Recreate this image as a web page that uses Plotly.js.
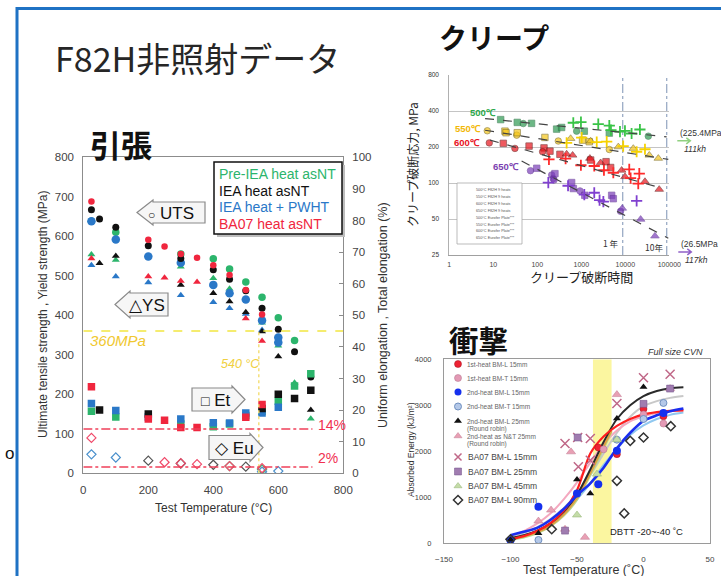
<!DOCTYPE html>
<html>
<head>
<meta charset="utf-8">
<title>F82H非照射データ</title>
<script src="https://cdn.plot.ly/plotly-3.0.1.min.js"></script>
<style>
  html, body { margin: 0; padding: 0; background: #ffffff; }
  #chart { width: 721px; height: 576px; }
</style>
</head>
<body>
<div id="chart"></div>
<script>
// ================= 引張 (tensile): temperature °C, strength MPa, elongation % =================
const tensileTempTicks = [0, 200, 400, 600, 800];

// Pre-IEA heat asNT
const preUtsT = [25, 100, 300, 400, 450, 500, 550, 600, 650];
const preUts  = [638, 610, 555, 543, 517, 484, 446, 394, 336];
const preYsT  = [25, 100, 300, 400, 450, 550, 600, 650, 700];
const preYs   = [554, 540, 523, 494, 467, 381, 323, 229, 138];
const preEtT  = [25, 100, 300, 400, 450, 500, 550, 600, 650, 700];
const preEt   = [19.6, 17.8, 15.6, 14.7, 15.6, 18.3, 19.6, 22.8, 27.6, 31.5];
const preEuT  = [450, 550];
const preEu   = [2.3, 1.2];

// IEA heat asNT
const ieaUtsT = [25, 50, 100, 200, 300, 400, 450, 500, 550, 600, 650, 700];
const ieaUts  = [667, 644, 623, 576, 544, 515, 491, 462, 418, 365, 308, 244];
const ieaYsT  = [50, 100, 300, 400, 450, 500, 550, 600, 700];
const ieaYs   = [532, 550, 477, 456, 435, 408, 359, 296, 160];
const ieaEtT  = [50, 200, 550, 600, 650, 700];
const ieaEt   = [20.0, 18.8, 20.5, 25.0, 23.7, 26.3];
const ieaEuT  = [200, 300, 400, 500];
const ieaEu   = [4.0, 3.1, 2.7, 2.1];

// IEA heat + PWHT
const pwhtUtsT = [25, 100, 200, 300, 400, 450, 500, 550, 600, 600];
const pwhtUts  = [638, 592, 549, 533, 477, 456, 440, 387, 344, 331];
const pwhtYsT  = [25, 100, 200, 300, 400, 450, 500, 550];
const pwhtYs   = [527, 498, 483, 451, 433, 418, 403, 363];
const pwhtEtT  = [25, 100, 200, 300, 400, 450, 500, 550, 600];
const pwhtEt   = [22.1, 19.9, 17.8, 17.2, 16.0, 15.9, 19.1, 19.1, 20.9];
const pwhtEuT  = [25, 100, 550, 600];
const pwhtEu   = [6.0, 5.0, 0.5, 0.7];

// BA07 heat asNT
const baUtsT = [25, 200, 250, 300, 350, 400, 450, 500, 550];
const baUts  = [688, 591, 574, 555, 546, 527, 502, 464, 402];
const baYsT  = [25, 200, 250, 300, 350, 500, 550];
const baYs   = [544, 498, 495, 487, 484, 392, 335];
const baEtT  = [25, 200, 250, 300, 350, 500, 550];
const baEt   = [27.4, 17.2, 16.8, 14.5, 14.5, 17.7, 21.8];
const baEuT  = [25, 250, 300, 350, 450, 550];
const baEu   = [11.2, 3.5, 3.2, 2.9, 2.3, 1.6];

// reference levels
const ysLimitMPa = 360;
const tempLimitC = 540;
const etLimitPct = 14;
const euLimitPct = 2;

// ================= クリープ (creep): rupture time h, stress MPa =================
// heat code: 0, 1, 2 = three F82H heat groups
const f500h = [14.7, 35, 48, 74, 275, 357, 783, 1170, 4330, 33300];
const f500s = [340, 322, 315, 316, 283, 292, 272, 272, 262, 247];
const f500k = [1, 1, 0, 1, 1, 1, 0, 1, 1, 0];
const e500h = [658, 982, 2430, 4330, 4720, 7570, 9820, 13900, 21500];
const e500s = [320, 324, 311, 303, 277, 270, 274, 260, 281];

const f550h = [7.3, 18.4, 19.5, 34, 35, 149, 300, 572, 1070, 1520, 1630, 4330, 6940, 15200, 35100, 56300];
const f550s = [274, 272, 264, 252, 264, 241, 225, 236, 229, 222, 225, 191, 201, 195, 171, 161];
const f550k = [0, 1, 1, 0, 1, 1, 0, 2, 1, 1, 2, 0, 2, 2, 2, 2];
const e550h = [464, 1020, 2240, 3780, 8960, 18100, 28000];
const e550s = [217, 240, 220, 222, 204, 183, 192];

const f600h = [8.1, 16.9, 31, 65, 142, 132, 194, 327, 464, 635, 1570, 1630, 2750, 3650, 4640, 8260, 9840, 28000, 59000];
const f600s = [217, 215, 195, 204, 197, 183, 185, 174, 175, 171, 161, 156, 148, 151, 135, 128, 113, 103, 88.5];
const f600k = [0, 1, 0, 1, 1, 0, 1, 1, 2, 2, 2, 1, 2, 1, 1, 2, 2, 2, 2];
const e600h = [184, 440, 980, 1970, 3270, 5340, 12300, 13200, 20800, 19700];
const e600s = [158, 160, 141, 139, 128, 122, 130, 110, 120, 99];

const f650h = [70, 97, 212, 231, 252, 240, 603, 660, 933, 1200, 4900, 5340, 7800, 8530, 22300, 47200];
const f650s = [127, 133, 117, 109, 120, 106, 101, 90, 86, 79, 79, 74, 58, 61.5, 49.7, 36];
const f650k = [0, 1, 0, 0, 1, 0, 1, 1, 0, 1, 1, 1, 0, 2, 2, 2];
const e650h = [178, 500, 1170, 1970, 2600, 3170, 18100];
const e650s = [101, 95, 80, 83, 72, 70, 71];

// trend lines (end points)
const trend500h = [6.5, 87000],  trend500s = [347, 244];
const trend550h = [6.5, 94900],  trend550s = [277, 158];
const trend600h = [8.4, 73000],  trend600s = [229, 90];
const trend650h = [44, 94900],   trend650s = [153, 34.5];

// unbroken (run-out) specimens
const runoutH = [111000, 117000];
const runoutS = [225.4, 26.5];

// 1 year / 10 years
const yearH = [8760, 87600];
const yearLabels = ['1 年', '10年'];

const creepTimeTicks = [1, 10, 100, 1000, 10000, 100000];
const creepStressTicks = [25, 50, 100, 200, 400, 800];

// ================= 衝撃 (Charpy impact): temperature °C, absorbed energy kJ/m² =================
const h1LT = [-34, -20, 0, 15];
const h1LE = [2080, 1935, 2920, 2760];
const h1TT = [-30, 0, 15];
const h1TE = [2040, 2800, 2600];
const h2LT = [-100, -79, -50, -34, -20, 15];
const h2LE = [60, 790, 1080, 1280, 2007, 2833];
const h2TT = [-79, -20, 0, 15];
const h2TE = [65, 2250, 2700, 3050];
const rrLT = [-100, -79, -50, -40, -20, 0];
const rrLE = [70, 210, 1385, 1080, 2710, 3398];
const rrNT = [-79, -69.5, -59, -54.5, -44, -20, 20];
const rrNE = [478, 717, 300, 1985, 124, 3232, 3362];
const ba15T = [-59, -49.5, -40, -49, -40, -20, 0, 20];
const ba15E = [2167, 2297, 2275, 1660, 1800, 3036, 3600, 3674];
const ba25T = [-49.5, -59, 0, 20];
const ba25E = [2297, 270, 3030, 3362];
const ba45T = [-50, -35, -20];
const ba45E = [610, 1500, 2250];
const ba90T = [-100, -69, -20, -14.5, -10, 0, 20.5];
const ba90E = [80, 300, 1355, 645, 2224, 2297, 2543];

// fitted transition curves
const fitT      = [-100, -90, -80, -70, -60, -50, -40, -30, -20, -10, 0, 10, 20, 30];
const fitBlack  = [110, 170, 270, 430, 680, 1050, 1600, 2200, 2700, 3000, 3200, 3310, 3370, 3390];
const fitGray   = [150, 220, 340, 520, 760, 1080, 1480, 1950, 2400, 2750, 2980, 3090, 3160, 3200];
const fitPink   = [160, 260, 420, 640, 950, 1320, 1750, 2150, 2450, 2650, 2760, 2830, 2870, 2890];
const fitRed    = [80, 150, 260, 430, 700, 1150, 1950, 2320, 2550, 2700, 2800, 2850, 2880, 2890];
const fitBlue   = [170, 245, 330, 500, 740, 1040, 1300, 1640, 2060, 2400, 2660, 2780, 2870, 2930];
const fitLBlue  = [100, 170, 260, 410, 620, 950, 1300, 1700, 2050, 2350, 2560, 2700, 2790, 2840];
const steepT    = [-100, -90, -80, -70, -60, -50, -40, -30, -24];
const fitOrange = [90, 140, 230, 380, 620, 980, 1520, 2100, 2450];
const fitGreen  = [70, 120, 210, 360, 590, 940, 1470, 2050, 2420];

const dbttBand = [-38, -24];
const impTempTicks = [-150, -100, -50, 0, 50];

// ================= page geometry =================
const W = 721, H = 576;
const SANS = 'Liberation Sans, Arial, sans-serif';
const JP = 'Noto Sans CJK JP, Noto Sans, sans-serif';

const tensBox  = {l: 83.3, r: 343.3, t: 157.3, b: 473.3};
const creepBox = {l: 449.3, r: 669.3, t: 75, b: 255};
const impBox   = {l: 444, r: 710, t: 359.3, b: 543};
const xDom = b => [b.l / W, b.r / W];
const yDom = b => [1 - b.b / H, 1 - b.t / H];

// creep axes in page pixels (log-log)
const creepPx = h => creepBox.l + (creepBox.r - creepBox.l) * Math.log10(h) / 5;
const creepPy = s => creepBox.t + (creepBox.b - creepBox.t) * Math.log(800 / s) / Math.log(32);

const traces = [];
const shapes = [];
const annotations = [];

function markers(x, y, xa, ya, marker, extra) {
  return Object.assign({type: 'scatter', mode: 'markers', x, y, xaxis: xa, yaxis: ya,
    showlegend: false, hoverinfo: 'skip', marker}, extra || {});
}
function label(x, y, text, size, color, opts) {
  annotations.push(Object.assign({
    xref: 'x4', yref: 'y5', x, y, text, showarrow: false,
    xanchor: 'left', yanchor: 'middle',
    font: {family: SANS, size, color}
  }, opts || {}));
}

// ---------- tensile marks ----------
const tensileSets = [
  {uT: preUtsT, u: preUts, yT: preYsT, y: preYs, eT: preEtT, e: preEt, dT: preEuT, d: preEu, color: '#2cb56c', eu: '#3cbf78', cs: 7.5},
  {uT: pwhtUtsT, u: pwhtUts, yT: pwhtYsT, y: pwhtYs, eT: pwhtEtT, e: pwhtEt, dT: pwhtEuT, d: pwhtEu, color: '#2a78c8', eu: '#4a90cc', cs: 8.5},
  {uT: ieaUtsT, u: ieaUts, yT: ieaYsT, y: ieaYs, eT: ieaEtT, e: ieaEt, dT: ieaEuT, d: ieaEu, color: '#111111', eu: '#555555', cs: 7},
  {uT: baUtsT, u: baUts, yT: baYsT, y: baYs, eT: baEtT, e: baEt, dT: baEuT, d: baEu, color: '#f0263e', eu: '#f04a6a', cs: 6.5}
];
tensileSets.forEach(s => {
  traces.push(markers(s.uT, s.u, 'x', 'y', {symbol: 'circle', size: s.cs, color: s.color}));
  traces.push(markers(s.yT, s.y, 'x', 'y', {symbol: 'triangle-up', size: 7, color: s.color}));
  traces.push(markers(s.eT, s.e, 'x', 'y2', {symbol: 'square', size: 7.5, color: s.color}));
  traces.push(markers(s.dT, s.d, 'x', 'y2', {symbol: 'diamond-open', size: 7, color: s.eu, line: {width: 1.2}}));
});

// reference lines
shapes.push({type: 'line', xref: 'x', yref: 'y', x0: 0, x1: 800, y0: ysLimitMPa, y1: ysLimitMPa,
  line: {color: '#f2e640', width: 1.5, dash: 'dash'}});
shapes.push({type: 'line', xref: 'x', yref: 'y', x0: tempLimitC, x1: tempLimitC, y0: 0, y1: ysLimitMPa,
  line: {color: '#f5e07a', width: 1.5, dash: 'dot'}});
[etLimitPct, euLimitPct].forEach(v => shapes.push({type: 'line', xref: 'x', yref: 'y2', x0: 0, x1: 705, y0: v, y1: v,
  line: {color: '#f0405a', width: 1.5, dash: 'dashdot'}}));

label(88, 340, '<i>' + ysLimitMPa + 'MPa</i>', 15, '#f0c830');
label(219, 364, '<i>' + tempLimitC + ' °C</i>', 12.5, '#f0d040');
label(316, 425, etLimitPct + '%', 14, '#f03050');
label(316, 458, euLimitPct + '%', 14, '#f03050');

// block arrows with property names
function leftArrow(tip, mid, base, right, hb, hh) {
  return `M${tip},${mid} L${base},${mid - hh} L${base},${mid - hb} L${right},${mid - hb} L${right},${mid + hb} L${base},${mid + hb} L${base},${mid + hh} Z`;
}
function rightArrow(left, mid, base, tip, hb, hh) {
  return `M${tip},${mid} L${base},${mid - hh} L${base},${mid - hb} L${left},${mid - hb} L${left},${mid + hb} L${base},${mid + hb} L${base},${mid + hh} Z`;
}
const arrowStyle = {type: 'path', xref: 'x4', yref: 'y5', fillcolor: '#f6f6f6', line: {color: '#8a8a8a', width: 1.2}, layer: 'above'};
shapes.push(Object.assign({path: leftArrow(137, 212.5, 153, 205, 10.5, 12.5)}, arrowStyle));
shapes.push(Object.assign({path: leftArrow(115, 304.5, 130, 168, 11.5, 13.5)}, arrowStyle));
shapes.push(Object.assign({path: rightArrow(192, 399.5, 232, 245, 11.5, 13.5)}, arrowStyle));
shapes.push(Object.assign({path: rightArrow(209, 447.5, 250, 263, 12, 14)}, arrowStyle));
const arrowFont = 'Liberation Sans, DejaVu Sans, sans-serif';
label(171, 213, '<span style="font-size:12px">○</span> UTS', 17, '#111', {xanchor: 'center', font: {family: arrowFont, size: 17, color: '#111'}});
label(147, 305, '△YS', 17, '#111', {xanchor: 'center', font: {family: arrowFont, size: 17, color: '#111'}});
label(216, 400, '<span style="font-size:14px">□</span> Et', 17, '#111', {xanchor: 'center', font: {family: arrowFont, size: 17, color: '#111'}});
label(234, 448, '◇ Eu', 17, '#111', {xanchor: 'center', font: {family: arrowFont, size: 17, color: '#111'}});

// legend box
shapes.push({type: 'rect', xref: 'x4', yref: 'y5', x0: 217, x1: 345, y0: 165, y1: 237, fillcolor: '#bdbdbd', line: {width: 0}, layer: 'above'});
shapes.push({type: 'rect', xref: 'x4', yref: 'y5', x0: 214, x1: 342, y0: 162, y1: 234, fillcolor: '#ffffff', line: {color: '#111', width: 1.5}, layer: 'above'});
const tensileNames = ['Pre-IEA heat asNT', 'IEA heat asNT', 'IEA heat + PWHT', 'BA07 heat asNT'];
const tensileNameColors = ['#2cb56c', '#111111', '#2a78c8', '#f0263e'];
tensileNames.forEach((n, i) => label(217, 174 + i * 16.5, n, 14, tensileNameColors[i]));

// axis titles
label(43, 315, 'Ultimate tensile strength , Yield strength (MPa)', 12, '#333', {xanchor: 'center', textangle: -90});
label(383, 315, 'Uniform elongation , Total elongation (%)', 12.5, '#333', {xanchor: 'center', textangle: -90});
label(213, 508, 'Test Temperature (°C)', 12, '#333', {xanchor: 'center'});

// ---------- creep marks ----------
const creepSym = ['circle', 'square', 'triangle-up'];
const creepSets = [
  {h: f500h, s: f500s, k: f500k, eh: e500h, es: e500s, fill: '#2e9a52', edge: '#1d6a38', cross: '#39c447'},
  {h: f550h, s: f550s, k: f550k, eh: e550h, es: e550s, fill: '#f5c518', edge: '#6a5a10', cross: '#f7d200'},
  {h: f600h, s: f600s, k: f600k, eh: e600h, es: e600s, fill: '#e8141c', edge: '#5a0a0a', cross: '#ff2a2a'},
  {h: f650h, s: f650s, k: f650k, eh: e650h, es: e650s, fill: '#7a3db8', edge: '#5a2a90', cross: '#8040d0'}
];
yearH.forEach(h => traces.push({type: 'scatter', mode: 'lines', x: [h, h], y: [25, 800], xaxis: 'x2', yaxis: 'y3',
  showlegend: false, hoverinfo: 'skip', line: {color: '#7d93b5', width: 1, dash: 'dashdot'}}));
creepSets.forEach(c => {
  traces.push(markers(c.h, c.s, 'x2', 'y3', {symbol: c.k.map(k => creepSym[k]), size: c.k.map(k => k === 2 ? 7.5 : 6.5),
    color: c.fill, line: {color: c.edge, width: 0.7}}));
  traces.push(markers(c.eh, c.es, 'x2', 'y3', {symbol: 'cross-thin', size: 8, line: {color: c.cross, width: 1.8}}));
});
[[trend500h, trend500s], [trend550h, trend550s], [trend600h, trend600s], [trend650h, trend650s]].forEach(([h, s]) =>
  traces.push({type: 'scatter', mode: 'lines', x: h, y: s, xaxis: 'x2', yaxis: 'y3', showlegend: false, hoverinfo: 'skip',
    line: {color: '#444', width: 1.2, dash: 'dash'}}));
traces.push(markers(runoutH, runoutS, 'x2', 'y3', {symbol: 'triangle-up', size: 9,
  color: ['#3cb043', '#2e1a4a'], line: {color: ['#2a7a30', '#7a3db8'], width: 1}}, {cliponaxis: false}));
const runoutArrowColor = ['#90d080', '#9060c8'];
runoutH.forEach((h, i) => {
  const px = creepPx(h), py = creepPy(runoutS[i]);
  label(px + 7, py - 8, '(' + runoutS[i] + 'MPa', 8.5, '#333');
  label(px + 11, py + 8, '<i>' + (h / 1000) + 'kh</i>', 8.5, '#333');
  const a = px + 6, b = px + 19;
  shapes.push({type: 'path', xref: 'x4', yref: 'y5', layer: 'above',
    path: `M${a},${py} L${b},${py} M${b - 4},${py - 3} L${b},${py} L${b - 4},${py + 3}`,
    line: {color: runoutArrowColor[i], width: 1.5}});
});
yearH.forEach((h, i) => label(creepPx(h) - 1.5, creepBox.b - 12 + i * 4, yearLabels[i], 8.5, '#333', {xanchor: 'right', font: {family: JP, size: 8.5, color: '#333'}}));

const creepTempLabels = [['500℃', 468, 112, '#2aa84a'], ['550℃', 453, 128, '#f2b705'], ['600℃', 452, 142, '#e8101c'], ['650℃', 491, 166, '#7b3fb0']];
creepTempLabels.forEach(([t, x, y, c]) => label(x, y, '<b>' + t + '</b>', 9.5, c));

// creep legend
shapes.push({type: 'rect', xref: 'x4', yref: 'y5', x0: 457, x1: 522, y0: 183, y1: 244, fillcolor: '#ffffff', line: {color: '#aaaaaa', width: 0.8}, layer: 'above'});
const creepLegRows = [189.5, 196.5, 203.5, 210.5, 218, 224.5, 231, 237.5];
const creepLegNames = ['500°C F82H 9 heats', '550°C F82H 9 heats', '600°C F82H 9 heats', '650°C F82H 9 heats',
  '500°C Eurofer Plate***', '550°C Eurofer Plate***', '600°C Eurofer Plate***', '650°C Eurofer Plate***'];
const legX = [], legY = [], legSym = [], legCol = [], legLine = [];
creepSets.forEach((c, i) => creepSym.forEach((s, j) => {
  legX.push(463.5 + j * 3.6); legY.push(creepLegRows[i]); legSym.push(s); legCol.push(c.fill); legLine.push(c.edge);
}));
traces.push(markers(legX, legY, 'x4', 'y5', {symbol: legSym, size: 3.5, color: legCol, line: {color: legLine, width: 0.4}}));
traces.push(markers([466, 466, 466, 466], creepLegRows.slice(4), 'x4', 'y5',
  {symbol: 'cross-thin', size: 4, line: {color: creepSets.map(c => c.cross), width: 1}}));
creepLegNames.forEach((n, i) => label(474, creepLegRows[i], n, 3.8, '#555'));

label(412, (creepBox.t + creepBox.b) / 2, 'クリープ破断応力, MPa', 12, '#222', {xanchor: 'center', textangle: -90, font: {family: JP, size: 12, color: '#222'}});
label(581, 276, 'クリープ破断時間', 13, '#222', {xanchor: 'center', font: {family: JP, size: 13, color: '#222'}});

// ---------- impact marks ----------
shapes.push({type: 'rect', xref: 'x3', yref: 'y4', x0: dbttBand[0], x1: dbttBand[1], y0: 0, y1: 4000,
  fillcolor: '#fbf6a0', line: {width: 0}, layer: 'below'});
const fits = [
  [fitT, fitGray, '#c8c8c8', 2], [fitT, fitPink, '#f4a8bf', 2], [fitT, fitLBlue, '#90c8f0', 2],
  [steepT, fitGreen, '#b8d890', 2], [steepT, fitOrange, '#e0a040', 2],
  [fitT, fitBlack, '#2a2a2a', 2], [fitT, fitRed, '#ff1e1e', 2.2], [fitT, fitBlue, '#1a2ef0', 2.6]
];
fits.forEach(([t, e, c, w]) => traces.push({type: 'scatter', mode: 'lines', x: t, y: e, xaxis: 'x3', yaxis: 'y4',
  showlegend: false, hoverinfo: 'skip', line: {color: c, width: w, shape: 'spline', smoothing: 0.8}}));

const impSeries = [
  {name: '1st-heat BM-L 15mm', t: h1LT, e: h1LE, m: {symbol: 'circle', size: 7, color: '#ee2233', line: {color: '#a01020', width: 0.5}}},
  {name: '1st-heat BM-T 15mm', t: h1TT, e: h1TE, m: {symbol: 'circle', size: 7, color: '#e39ab5', line: {color: '#b07088', width: 0.5}}},
  {name: '2nd-heat BM-L 15mm', t: h2LT, e: h2LE, m: {symbol: 'circle', size: 8, color: '#1530ee'}},
  {name: '2nd-heat BM-T 15mm', t: h2TT, e: h2TE, m: {symbol: 'circle', size: 7, color: '#b4c8e8', line: {color: '#7090c0', width: 1}}},
  {name: '2nd-heat BM-L 25mm', sub: '(Round robin)', t: rrLT, e: rrLE, m: {symbol: 'triangle-up', size: 7, color: '#111111'}},
  {name: '2nd-heat as N&T 25mm', sub: '(Round robin)', t: rrNT, e: rrNE, m: {symbol: 'triangle-up', size: 8, color: '#e8a0b4', line: {color: '#c07890', width: 0.5}}},
  {name: 'BA07 BM-L 15mm', big: true, t: ba15T, e: ba15E, m: {symbol: 'x-thin', size: 9, line: {color: '#c06888', width: 1.5}}},
  {name: 'BA07 BM-L 25mm', big: true, t: ba25T, e: ba25E, m: {symbol: 'square', size: 7, color: '#a07cb0', line: {color: '#705088', width: 0.5}}},
  {name: 'BA07 BM-L 45mm', big: true, t: ba45T, e: ba45E, m: {symbol: 'triangle-up', size: 8, color: '#c4dca8', line: {color: '#90b070', width: 0.5}}},
  {name: 'BA07 BM-L 90mm', big: true, t: ba90T, e: ba90E, m: {symbol: 'diamond-open', size: 7, color: '#333333', line: {width: 1.5}}}
];
impSeries.forEach(s => traces.push(markers(s.t, s.e, 'x3', 'y4', s.m)));

// impact legend
const impLegRows = [364, 378, 392, 406.5, 421, 436, 457, 471.5, 486, 500];
impSeries.forEach((s, i) => {
  const m = Object.assign({}, s.m, {size: Math.min(s.m.size, 7)});
  traces.push(markers([458], [impLegRows[i]], 'x4', 'y5', m));
  if (s.big) {
    label(466, impLegRows[i], s.name, 8.5, '#444');
  } else {
    label(465, impLegRows[i], s.name, 6.5, '#666');
    if (s.sub) label(465, impLegRows[i] + 8, s.sub, 6.5, '#666');
  }
});

label(705, 352, '<i>Full size CVN</i>', 9, '#333', {xanchor: 'right'});
label(608, 531, 'DBTT -20~-40 ˚C', 9.5, '#222');
label(411, 450, 'Absorbed Energy (kJ/m²)', 8.5, '#333', {xanchor: 'center', textangle: -90});
label(583, 570, 'Test Temperature (˚C)', 12.5, '#333', {xanchor: 'center'});

// ---------- page titles and frame ----------
label(53, 57, 'F82H非照射データ', 34, '#262626', {font: {family: JP, size: 34, color: '#262626'}});
label(88, 143, '<b>引張</b>', 31, '#111', {font: {family: JP, size: 31, color: '#111'}});
label(437, 37, '<b>クリープ</b>', 28, '#111', {font: {family: JP, size: 28, color: '#111'}});
label(447, 339, '<b>衝撃</b>', 29.5, '#111', {font: {family: JP, size: 29.5, color: '#111'}});
label(3, 453, 'o', 17, '#111');
shapes.push({type: 'line', xref: 'x4', yref: 'y5', x0: 16, x1: W, y0: 8.5, y1: 8.5, line: {color: '#1f72c4', width: 3}, layer: 'above'});
shapes.push({type: 'line', xref: 'x4', yref: 'y5', x0: 17, x1: 17, y0: 7, y1: H, line: {color: '#1f72c4', width: 3}, layer: 'above'});

// ---------- axes ----------
const ax = {showgrid: false, zeroline: false, showline: true, linecolor: '#8c8c8c', linewidth: 1, ticks: '', fixedrange: true};
const layout = {
  width: W, height: H, margin: {l: 0, r: 0, t: 0, b: 0},
  paper_bgcolor: '#ffffff', plot_bgcolor: 'rgba(0,0,0,0)', showlegend: false,
  font: {family: SANS, color: '#333'},
  xaxis: Object.assign({}, ax, {domain: xDom(tensBox), anchor: 'y', range: [0, 800], tickvals: tensileTempTicks, mirror: true,
    tickfont: {size: 11.5, color: '#444'}, ticklabelstandoff: 6}),
  yaxis: Object.assign({}, ax, {domain: yDom(tensBox), anchor: 'x', range: [0, 800], dtick: 100, mirror: true,
    tickfont: {size: 11.5, color: '#444'}, ticklabelstandoff: 6}),
  yaxis2: Object.assign({}, ax, {overlaying: 'y', side: 'right', anchor: 'x', range: [0, 100], dtick: 10, showline: false,
    ticks: 'inside', ticklen: 4, tickcolor: '#8c8c8c', tickfont: {size: 11.5, color: '#444'}, ticklabelstandoff: 8}),
  xaxis2: Object.assign({}, ax, {domain: xDom(creepBox), anchor: 'y3', type: 'log', range: [0, 5], linecolor: '#a0a0a0',
    tickmode: 'array', tickvals: creepTimeTicks, ticktext: creepTimeTicks.map(String), tickfont: {size: 7, color: '#444'}, ticklabelstandoff: 3}),
  yaxis3: Object.assign({}, ax, {domain: yDom(creepBox), anchor: 'x2', type: 'log', range: [Math.log10(25), Math.log10(803)],
    linecolor: '#b0b0b0', showgrid: true, gridcolor: '#c4c4c4', gridwidth: 1,
    tickmode: 'array', tickvals: creepStressTicks, ticktext: creepStressTicks.map(String), tickfont: {size: 6.5, color: '#333'}, ticklabelstandoff: 8}),
  xaxis3: Object.assign({}, ax, {domain: xDom(impBox), anchor: 'y4', range: [-150, 50], tickvals: impTempTicks, mirror: true,
    linecolor: '#9a9a9a', tickfont: {size: 8, color: '#444'}, ticklabelstandoff: 8}),
  yaxis4: Object.assign({}, ax, {domain: yDom(impBox), anchor: 'x3', range: [0, 4000], dtick: 1000, mirror: true,
    linecolor: '#9a9a9a', tickfont: {size: 7.5, color: '#444'}, ticklabelstandoff: 10}),
  xaxis4: {domain: [0, 1], range: [0, W], visible: false, anchor: 'y5', fixedrange: true},
  yaxis5: {domain: [0, 1], range: [H, 0], visible: false, anchor: 'x4', fixedrange: true},
  shapes, annotations
};

Plotly.newPlot('chart', traces, layout, {staticPlot: true, displayModeBar: false});
</script>
</body>
</html>
